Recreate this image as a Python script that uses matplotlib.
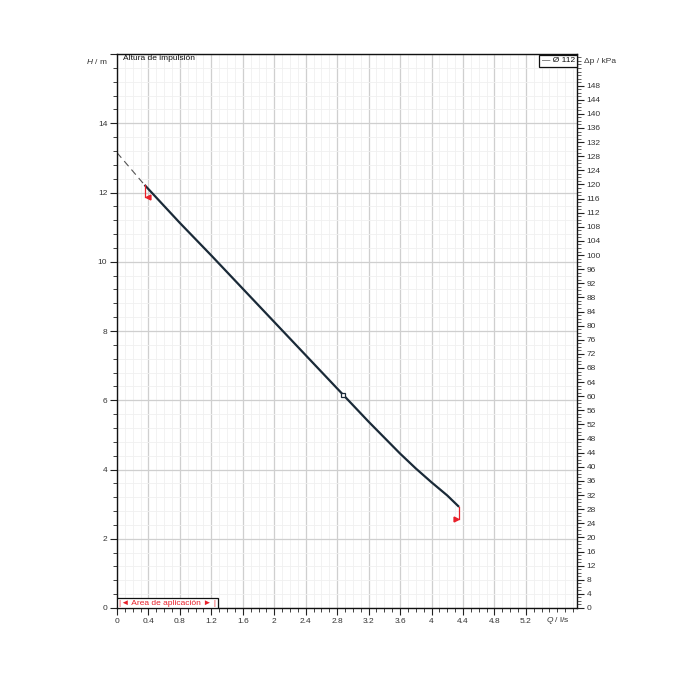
import matplotlib
matplotlib.use("Agg")
import matplotlib.pyplot as plt
from matplotlib.ticker import MultipleLocator, FixedLocator
from matplotlib.patches import Rectangle

plt.rcParams["font.family"] = ["Liberation Sans", "DejaVu Sans"]
plt.rcParams["mathtext.fontset"] = "custom"
plt.rcParams["mathtext.it"] = "Liberation Sans:italic"

# data
q_curve = [0.35, 0.8, 1.2, 1.6, 2.0, 2.4, 2.8, 3.2, 3.6, 3.8, 4.0, 4.2, 4.35]
h_curve = [12.22, 11.12, 10.18, 9.22, 8.26, 7.30, 6.34, 5.38, 4.46, 4.03, 3.63, 3.25, 2.92]
q_dash = [0.0, 0.35]
h_dash = [13.15, 12.22]
q_point = [2.88]
h_point = [6.14]
q_limits = [0.35, 4.35]
h_limit_marks = [11.86, 2.57]
x_ticks = [0, 0.4, 0.8, 1.2, 1.6, 2, 2.4, 2.8, 3.2, 3.6, 4, 4.4, 4.8, 5.2]
y_ticks = [0, 2, 4, 6, 8, 10, 12, 14]
kpa_ticks = list(range(0, 149, 4))

curve_col = "#1a2a38"
red = "#e8202a"
txt = "#333333"
fs = 6

fig = plt.figure(figsize=(7, 7), dpi=100)
ax = fig.add_axes([117/700, 1-608/700, 460/700, 554/700])
ax.set_xlim(0, 5.85)
ax.set_ylim(0, 16)

# grid
ax.xaxis.set_major_locator(FixedLocator(x_ticks))
ax.xaxis.set_minor_locator(MultipleLocator(0.1))
ax.yaxis.set_major_locator(FixedLocator(y_ticks + [16]))
ax.yaxis.set_minor_locator(MultipleLocator(0.4))
ax.grid(which="major", color="#cfcfcf", lw=0.9)
ax.grid(which="minor", color="#f0f0f0", lw=0.6)
ax.set_axisbelow(True)

ax.set_xticklabels([("%g" % v) for v in x_ticks], fontsize=fs, color=txt)
ax.set_yticklabels([("%g" % v) for v in y_ticks] + [""], fontsize=fs, color=txt)
ax.tick_params(which="major", length=5, width=0.8, color="#222222", pad=2)
ax.tick_params(which="minor", length=3, width=0.6, color="#222222")
for s in ax.spines.values():
    s.set_color("#111111")
    s.set_linewidth(1.0)

ax.text(-0.12, 15.78, "$H$ / m", ha="right", va="center", fontsize=fs, color=txt)
ax.text(5.6, -0.2, "$Q$ / l/s", ha="center", va="top", fontsize=fs, color=txt)
ax.text(0.07, 15.88, "Altura de impulsión", ha="left", va="center", fontsize=fs, color="#111111")

# right axis kPa
ax2 = ax.twinx()
ax2.set_ylim(0, 16*9.81)
ax2.yaxis.set_major_locator(FixedLocator(kpa_ticks))
ax2.yaxis.set_minor_locator(MultipleLocator(1))
ax2.set_yticklabels([str(v) for v in kpa_ticks], fontsize=fs, color=txt)
ax2.tick_params(which="major", length=5, width=0.8, color="#222222", pad=2)
ax2.tick_params(which="minor", length=3, width=0.5, color="#222222")
for s in ax2.spines.values():
    s.set_visible(False)
ax2.text(1.015, 15.78/16, "Δp / kPa", transform=ax.transAxes, ha="left", va="center",
         fontsize=fs, color=txt)

# curve
ax.plot(q_dash, h_dash, color="#555555", lw=0.8, ls=(0, (6, 4)))
ax.plot(q_curve, h_curve, color=curve_col, lw=1.6, solid_capstyle="butt", solid_joinstyle="round")
ax.plot(q_point, h_point, marker="s", ms=3.5, mfc="white", mec=curve_col, mew=0.9, ls="none")

# application limits
ax.plot([q_limits[0], q_limits[0]], [h_curve[0], h_limit_marks[0]], color=red, lw=0.9)
ax.plot([q_limits[1], q_limits[1]], [h_curve[-1], h_limit_marks[1]], color=red, lw=0.9)
ax.plot([q_limits[0] + 0.045], [h_limit_marks[0]], marker="<", ms=3.5, color=red, ls="none")
ax.plot([q_limits[1] - 0.045], [h_limit_marks[1]], marker=">", ms=3.5, color=red, ls="none")

# area box
ax.add_patch(Rectangle((0, 0), 1.28, 0.29, fill=True, fc="white", ec="#111111", lw=0.9, zorder=5))
ax.text(0.64, 0.14, "|◄ Area de aplicación ► |", ha="center", va="center",
        fontsize=fs, color=red, zorder=6)

# legend box
ax.text(5.82, 15.8, "— Ø 112", ha="right", va="center", fontsize=fs, color="#111111",
        bbox=dict(boxstyle="square,pad=0.25", fc="white", ec="#111111", lw=0.9), zorder=6)

fig.savefig("out.png", dpi=100)
